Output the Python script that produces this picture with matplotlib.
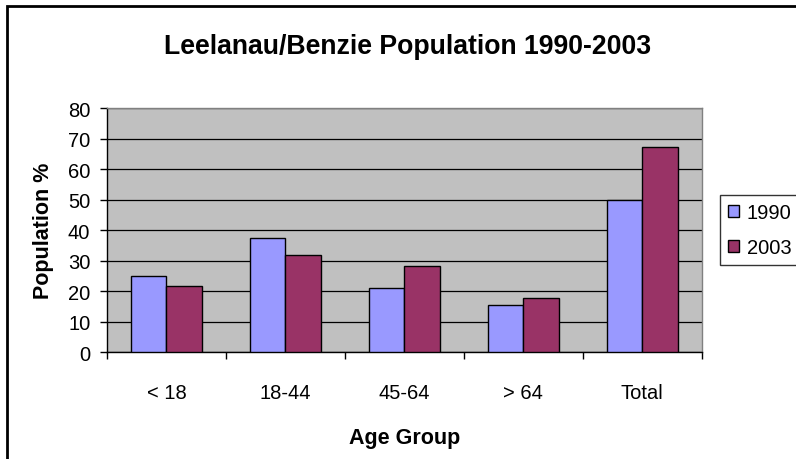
import matplotlib
matplotlib.use("Agg")
import matplotlib.pyplot as plt
from matplotlib.patches import Rectangle
import numpy as np

plt.rcParams['font.family'] = ['Liberation Sans', 'DejaVu Sans']

categories = ["< 18", "18-44", "45-64", "> 64", "Total"]
series_names = ["1990", "2003"]
values_1990 = [25.0, 37.4, 21.1, 15.6, 50.0]
values_2003 = [21.6, 32.0, 28.2, 17.8, 67.4]
yticks = [0, 10, 20, 30, 40, 50, 60, 70, 80]

W, H = 796, 460
fig = plt.figure(figsize=(W / 100, H / 100), dpi=100)
ax = fig.add_axes([107 / W, 1 - 353.3 / H, (701.7 - 107) / W, (353.3 - 109.3) / H])
ax.set_facecolor('#C0C0C0')

x = np.arange(len(categories))
bw = 0.3
ax.bar(x - bw / 2, values_1990, bw, color='#9999FF', edgecolor='black', linewidth=1.0,
       label=series_names[0], zorder=3)
ax.bar(x + bw / 2, values_2003, bw, color='#993366', edgecolor='black', linewidth=1.0,
       label=series_names[1], zorder=3)

ax.set_xlim(-0.5, len(categories) - 0.5)
ax.set_ylim(0, 80)
ax.set_yticks(yticks)
ax.set_yticklabels([str(v) for v in yticks], fontsize=14.5)
ax.yaxis.grid(True, color='black', linewidth=0.9, zorder=1)
ax.set_axisbelow(True)

ax.set_xticks(x)
ax.set_xticklabels(categories, fontsize=14.5)
ax.tick_params(axis='x', which='major', length=0, pad=22)
ax.set_xticks(np.arange(-0.5, len(categories), 1.0), minor=True)
ax.tick_params(axis='x', which='minor', length=5, width=1, color='black')
ax.tick_params(axis='y', length=5, width=1, color='black', pad=7)

for s in ['top', 'right']:
    ax.spines[s].set_color('#808080')
    ax.spines[s].set_linewidth(1)
for s in ['left', 'bottom']:
    ax.spines[s].set_color('black')
    ax.spines[s].set_linewidth(1)

fig.text(43 / W, 1 - 231 / H, "Population %", rotation=90, ha='center', va='center',
         fontsize=15.5, fontweight='bold')
fig.text(405 / W, 1 - 444 / H, "Age Group", ha='center', va='baseline',
         fontsize=15.5, fontweight='bold')

fig.text(408 / W, 1 - 54 / H, "Leelanau/Benzie Population 1990-2003", ha='center',
         va='baseline', fontsize=19.2, fontweight='bold')

leg = fig.legend(loc='upper left', bbox_to_anchor=(720 / W, 1 - 196 / H), fontsize=14.5,
                 frameon=True, fancybox=False, edgecolor='black', handlelength=0.55,
                 handleheight=0.55, handletextpad=0.38, borderpad=0.4, labelspacing=0.8,
                 borderaxespad=0)
leg.get_frame().set_linewidth(1)

fig.patches.append(Rectangle((7 / W, -0.1), 1.2, 1 - 7 / H + 0.1, transform=fig.transFigure,
                             fill=False, edgecolor='black', linewidth=2))

fig.savefig("out.png", dpi=100)
